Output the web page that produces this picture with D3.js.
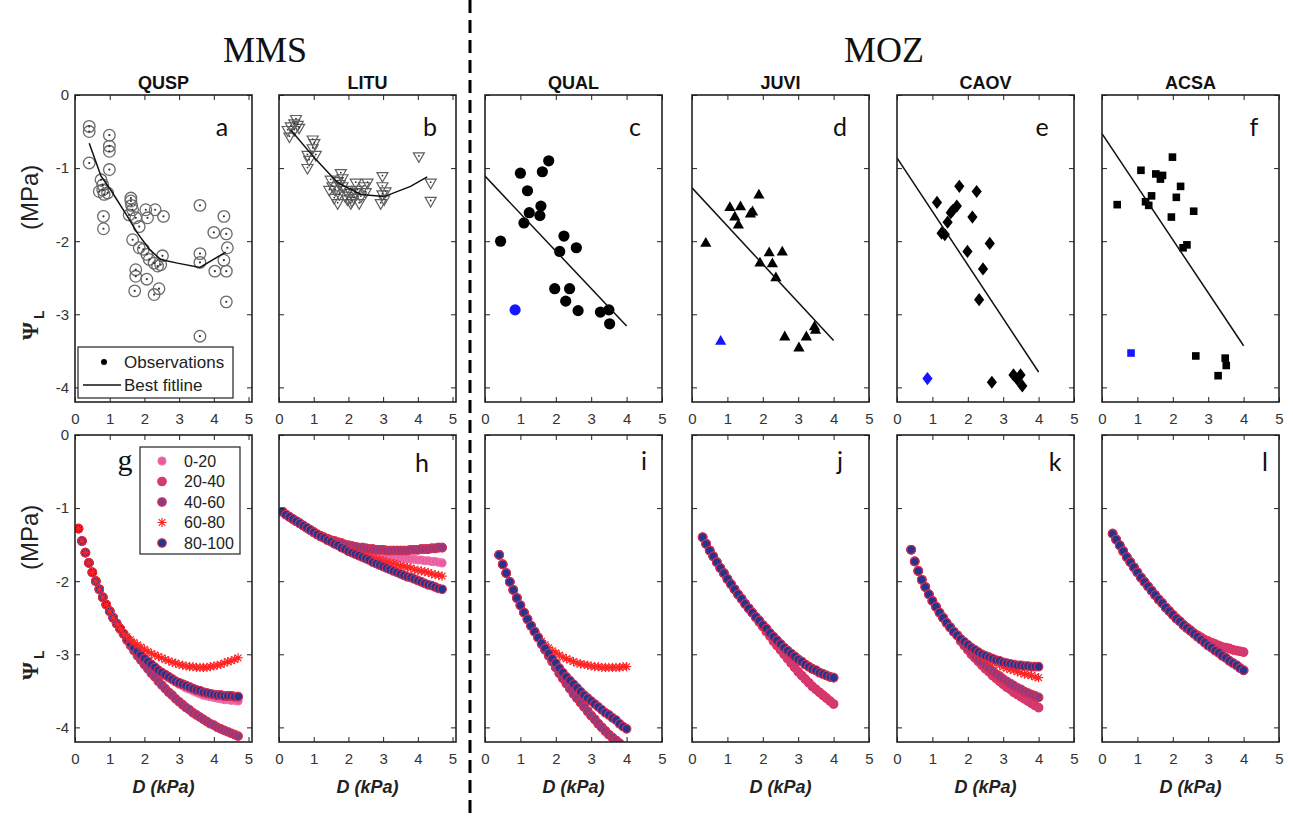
<!DOCTYPE html>
<html>
<head>
<meta charset="utf-8">
<script src="https://cdn.jsdelivr.net/npm/d3@7"></script>
<style>
  body { margin: 0; background: #fff; }
  svg { display: block; }
</style>
</head>
<body>
<svg id="fig" width="1293" height="817"></svg>
<script>
// ---------------- Observations: leaf water potential vs. vapour pressure deficit ----------------
const qusp = {
  D:   [0.41,0.41,0.41,0.99,0.99,0.99,0.99,0.75,0.80,0.80,0.84,0.94,0.70,0.82,0.82,1.61,1.61,1.63,1.66,1.56,1.75,1.85,1.66,2.04,2.09,2.31,2.55,1.85,1.97,2.07,2.14,2.28,2.38,2.47,2.52,1.75,1.75,2.07,1.72,2.28,2.42,3.60,3.60,3.60,3.60,4.00,4.03,4.29,4.36,4.39,4.29,4.36,4.36],
  psi: [-0.43,-0.50,-0.93,-0.55,-0.70,-0.77,-1.02,-1.16,-1.23,-1.30,-1.36,-1.34,-1.32,-1.66,-1.83,-1.41,-1.45,-1.51,-1.57,-1.64,-1.68,-1.80,-1.98,-1.57,-1.68,-1.57,-1.66,-2.09,-2.11,-2.18,-2.25,-2.30,-2.34,-2.32,-2.20,-2.39,-2.48,-2.52,-2.68,-2.73,-2.65,-1.51,-2.17,-2.29,-3.30,-1.88,-2.41,-1.66,-1.90,-2.09,-2.26,-2.41,-2.83]
};
const quspFitD   = [0.41,0.75,1.03,1.51,1.80,2.14,2.47,2.95,3.60,4.34];
const quspFitPsi = [-0.66,-1.11,-1.30,-1.66,-1.89,-2.11,-2.25,-2.30,-2.36,-2.15];

const litu = {
  D:   [0.49,0.44,0.34,0.54,0.25,0.44,0.30,0.58,0.97,1.02,0.97,0.82,1.06,0.87,0.82,1.49,1.54,1.45,1.69,1.78,1.83,1.74,1.69,1.93,2.07,2.07,2.21,2.26,2.36,2.31,2.45,2.55,2.16,1.97,1.59,1.83,1.62,1.90,2.20,2.50,1.75,2.10,2.98,2.98,2.98,3.03,2.93,3.07,4.03,4.37,4.37],
  psi: [-0.33,-0.39,-0.43,-0.41,-0.48,-0.48,-0.57,-0.45,-0.61,-0.66,-0.73,-0.82,-0.82,-0.89,-1.00,-1.16,-1.25,-1.30,-1.18,-1.07,-1.25,-1.36,-1.48,-1.30,-1.34,-1.48,-1.20,-1.30,-1.39,-1.48,-1.25,-1.20,-1.41,-1.43,-1.41,-1.14,-1.30,-1.38,-1.33,-1.33,-1.22,-1.45,-1.11,-1.25,-1.36,-1.43,-1.48,-1.32,-0.84,-1.20,-1.45]
};
const lituFitD   = [0.34,1.02,1.69,2.36,3.03,3.79,4.27];
const lituFitPsi = [-0.48,-0.86,-1.20,-1.36,-1.39,-1.25,-1.12];

const qual = {
  D:   [1.80,1.00,1.62,1.20,1.58,1.25,1.55,1.10,0.44,2.23,2.11,2.58,1.97,2.39,2.28,2.63,3.26,3.50,3.52],
  psi: [-0.90,-1.07,-1.05,-1.31,-1.52,-1.61,-1.65,-1.75,-2.00,-1.93,-2.14,-2.09,-2.65,-2.65,-2.82,-2.95,-2.97,-2.94,-3.13]
};
const qualOutD = [0.85], qualOutPsi = [-2.94];
const qualFitD = [0, 4], qualFitPsi = [-1.11, -3.16];

const juvi = {
  D:   [1.89,1.07,1.37,1.21,1.71,1.65,1.31,0.39,2.18,2.55,1.92,2.27,2.37,3.46,3.49,3.23,2.62,3.02],
  psi: [-1.36,-1.53,-1.52,-1.66,-1.59,-1.62,-1.77,-2.02,-2.15,-2.14,-2.29,-2.30,-2.49,-3.16,-3.21,-3.30,-3.30,-3.45]
};
const juviOutD = [0.81], juviOutPsi = [-3.36];
const juviFitD = [0, 4], juviFitPsi = [-1.27, -3.36];

const caov = {
  D:   [1.76,2.25,1.13,1.69,1.57,1.52,2.13,1.43,1.26,1.35,1.99,2.62,2.43,2.32,2.68,3.29,3.49,3.54,3.40],
  psi: [-1.25,-1.32,-1.47,-1.52,-1.58,-1.61,-1.67,-1.74,-1.89,-1.91,-2.14,-2.03,-2.38,-2.80,-3.93,-3.83,-3.83,-3.98,-3.89]
};
const caovOutD = [0.86], caovOutPsi = [-3.88];
const caovFitD = [0, 4], caovFitPsi = [-0.86, -3.79];

const acsa = {
  D:   [1.99,1.10,1.52,1.71,1.65,2.22,1.40,2.10,0.43,1.23,1.32,2.59,1.96,2.40,2.29,2.65,3.48,3.51,3.28],
  psi: [-0.85,-1.03,-1.08,-1.10,-1.15,-1.25,-1.38,-1.40,-1.50,-1.46,-1.51,-1.59,-1.67,-2.05,-2.09,-3.57,-3.60,-3.70,-3.84]
};
const acsaOutD = [0.82], acsaOutPsi = [-3.53];
const acsaFitD = [0, 4], acsaFitPsi = [-0.53, -3.43];

// ---------------- Modelled leaf water potential by soil-moisture percentile class ----------------
const classLabels = ["0-20", "20-40", "40-60", "60-80", "80-100"];

const dMMS = [0.1,0.2,0.3,0.4,0.5,0.6,0.7,0.8,0.9,1.0,1.1,1.2,1.3,1.4,1.5,1.6,1.7,1.8,1.9,2.0,2.1,2.2,2.3,2.4,2.5,2.6,2.7,2.8,2.9,3.0,3.1,3.2,3.3,3.4,3.5,3.6,3.7,3.8,3.9,4.0,4.1,4.2,4.3,4.4,4.5,4.6,4.7];
const dQUAL = [0.4,0.5,0.6,0.7,0.8,0.9,1.0,1.1,1.2,1.3,1.4,1.5,1.6,1.7,1.8,1.9,2.0,2.1,2.2,2.3,2.4,2.5,2.6,2.7,2.8,2.9,3.0,3.1,3.2,3.3,3.4,3.5,3.6,3.7,3.8,3.9,4.0];
const dJUVI = [0.3,0.4,0.5,0.6,0.7,0.8,0.9,1.0,1.1,1.2,1.3,1.4,1.5,1.6,1.7,1.8,1.9,2.0,2.1,2.2,2.3,2.4,2.5,2.6,2.7,2.8,2.9,3.0,3.1,3.2,3.3,3.4,3.5,3.6,3.7,3.8,3.9,4.0];
const dCAOV = dQUAL;
const dACSA = dJUVI;

// QUSP: shared low-D segment (0.1-1.4) and the branches beyond it (1.5-4.7)
const gLow  = [-1.28,-1.45,-1.61,-1.75,-1.88,-2.00,-2.11,-2.22,-2.32,-2.41,-2.50,-2.58,-2.65,-2.72];
const g020  = [-2.79,-2.85,-2.91,-2.96,-3.01,-3.06,-3.10,-3.14,-3.18,-3.22,-3.26,-3.29,-3.32,-3.35,-3.38,-3.41,-3.43,-3.46,-3.48,-3.50,-3.52,-3.54,-3.56,-3.57,-3.58,-3.59,-3.60,-3.61,-3.62,-3.62,-3.63,-3.63,-3.64];
const gMid  = [-2.79,-2.85,-2.91,-2.96,-3.01,-3.06,-3.10,-3.14,-3.18,-3.22,-3.25,-3.28,-3.31,-3.34,-3.37,-3.39,-3.41,-3.43,-3.45,-3.47,-3.49,-3.50,-3.52,-3.53,-3.54,-3.55,-3.56,-3.56,-3.57,-3.57,-3.57,-3.58,-3.58];
const gLowBr= [-2.81,-2.88,-2.95,-3.02,-3.08,-3.14,-3.20,-3.26,-3.31,-3.37,-3.42,-3.47,-3.52,-3.56,-3.61,-3.65,-3.69,-3.73,-3.76,-3.80,-3.83,-3.86,-3.89,-3.92,-3.95,-3.97,-4.00,-4.02,-4.04,-4.06,-4.08,-4.10,-4.12];
const gRed  = [-2.76,-2.80,-2.84,-2.87,-2.90,-2.93,-2.96,-2.99,-3.01,-3.03,-3.05,-3.07,-3.09,-3.11,-3.12,-3.14,-3.15,-3.16,-3.17,-3.17,-3.18,-3.18,-3.18,-3.18,-3.17,-3.16,-3.15,-3.14,-3.12,-3.10,-3.09,-3.07,-3.05];

// LITU: shared 0.1-1.0, branches 1.1-4.7
const hLow  = [-1.05,-1.09,-1.12,-1.15,-1.18,-1.21,-1.24,-1.27,-1.30,-1.33];
const hPink = [-1.36,-1.39,-1.41,-1.43,-1.45,-1.47,-1.49,-1.51,-1.53,-1.55,-1.56,-1.58,-1.59,-1.60,-1.61,-1.62,-1.63,-1.64,-1.64,-1.65,-1.66,-1.67,-1.67,-1.68,-1.68,-1.69,-1.69,-1.70,-1.70,-1.71,-1.71,-1.72,-1.72,-1.73,-1.73,-1.74,-1.75];
const hTop  = [-1.36,-1.38,-1.40,-1.42,-1.44,-1.45,-1.47,-1.48,-1.50,-1.51,-1.52,-1.53,-1.54,-1.54,-1.55,-1.56,-1.56,-1.57,-1.57,-1.57,-1.58,-1.58,-1.58,-1.58,-1.58,-1.58,-1.58,-1.57,-1.57,-1.57,-1.56,-1.56,-1.56,-1.55,-1.55,-1.54,-1.54];
const hRed  = [-1.36,-1.39,-1.41,-1.44,-1.46,-1.49,-1.51,-1.53,-1.55,-1.57,-1.59,-1.61,-1.62,-1.64,-1.65,-1.67,-1.68,-1.70,-1.71,-1.72,-1.74,-1.75,-1.76,-1.77,-1.79,-1.80,-1.81,-1.82,-1.84,-1.85,-1.86,-1.87,-1.88,-1.90,-1.91,-1.92,-1.93];
const hNavy = [-1.36,-1.39,-1.41,-1.44,-1.46,-1.49,-1.51,-1.54,-1.56,-1.59,-1.61,-1.63,-1.65,-1.67,-1.69,-1.71,-1.74,-1.76,-1.78,-1.80,-1.82,-1.84,-1.86,-1.88,-1.90,-1.92,-1.94,-1.95,-1.97,-1.99,-2.01,-2.03,-2.05,-2.06,-2.08,-2.10,-2.11];

// QUAL: shared 0.4-1.5, branches 1.6-4.0
const iLow  = [-1.64,-1.77,-1.89,-2.01,-2.12,-2.23,-2.33,-2.43,-2.52,-2.61,-2.69,-2.77];
const iDeep = [-2.86,-2.94,-3.02,-3.10,-3.18,-3.26,-3.33,-3.40,-3.47,-3.54,-3.60,-3.66,-3.72,-3.78,-3.84,-3.89,-3.95,-4.00,-4.05,-4.10,-4.14,-4.18,-4.22,-4.26,-4.30];
const iRed  = [-2.82,-2.87,-2.91,-2.95,-2.98,-3.01,-3.04,-3.06,-3.08,-3.10,-3.12,-3.13,-3.14,-3.15,-3.16,-3.17,-3.17,-3.18,-3.18,-3.18,-3.18,-3.18,-3.18,-3.17,-3.17];
const iNavy = [-2.85,-2.92,-2.99,-3.06,-3.12,-3.19,-3.25,-3.31,-3.36,-3.41,-3.46,-3.51,-3.56,-3.60,-3.64,-3.68,-3.72,-3.76,-3.80,-3.83,-3.87,-3.90,-3.95,-3.99,-4.02];

// JUVI: shared 0.3-1.7, branches 1.8-4.0
const jLow  = [-1.40,-1.49,-1.58,-1.66,-1.74,-1.82,-1.89,-1.97,-2.04,-2.11,-2.18,-2.24,-2.31,-2.37,-2.43];
const jPink = [-2.49,-2.56,-2.62,-2.69,-2.75,-2.82,-2.88,-2.94,-3.00,-3.06,-3.12,-3.18,-3.24,-3.29,-3.34,-3.39,-3.44,-3.48,-3.52,-3.56,-3.60,-3.64,-3.68];
const jNavy = [-2.49,-2.54,-2.60,-2.65,-2.71,-2.76,-2.81,-2.86,-2.91,-2.95,-2.99,-3.03,-3.07,-3.10,-3.14,-3.17,-3.20,-3.22,-3.25,-3.27,-3.29,-3.31,-3.32];

// CAOV: shared 0.4-1.7, branches 1.8-4.0
const kLow  = [-1.57,-1.73,-1.86,-1.98,-2.08,-2.18,-2.27,-2.35,-2.43,-2.50,-2.57,-2.63,-2.69,-2.74];
const kPink = [-2.82,-2.88,-2.94,-3.00,-3.05,-3.10,-3.15,-3.20,-3.24,-3.29,-3.33,-3.37,-3.41,-3.45,-3.48,-3.52,-3.55,-3.58,-3.61,-3.64,-3.67,-3.70,-3.73];
const kPurp = [-2.81,-2.87,-2.92,-2.97,-3.02,-3.07,-3.11,-3.15,-3.19,-3.23,-3.27,-3.30,-3.34,-3.37,-3.40,-3.43,-3.46,-3.48,-3.51,-3.53,-3.55,-3.57,-3.59];
const kRed  = [-2.79,-2.84,-2.88,-2.92,-2.96,-2.99,-3.02,-3.05,-3.08,-3.10,-3.13,-3.15,-3.17,-3.19,-3.21,-3.22,-3.24,-3.25,-3.27,-3.28,-3.29,-3.31,-3.32];
const kNavy = [-2.79,-2.83,-2.87,-2.91,-2.94,-2.97,-3.00,-3.02,-3.04,-3.06,-3.08,-3.09,-3.11,-3.12,-3.13,-3.14,-3.15,-3.15,-3.16,-3.16,-3.17,-3.17,-3.17];

// ACSA: shared 0.3-2.4, branches 2.5-4.0
const lLow  = [-1.35,-1.43,-1.51,-1.59,-1.67,-1.74,-1.81,-1.88,-1.95,-2.01,-2.07,-2.13,-2.19,-2.25,-2.30,-2.36,-2.41,-2.46,-2.51,-2.55,-2.60,-2.64];
const lPink = [-2.67,-2.71,-2.74,-2.77,-2.80,-2.82,-2.84,-2.86,-2.88,-2.90,-2.91,-2.92,-2.94,-2.95,-2.96,-2.97];
const lNavy = [-2.68,-2.72,-2.76,-2.80,-2.84,-2.88,-2.91,-2.95,-2.98,-3.02,-3.05,-3.09,-3.12,-3.15,-3.19,-3.22];

// one array of psi values per class, in class order 0-20 ... 80-100
const modelQUSP = [gLow.concat(g020), gLow.concat(gMid), gLow.concat(gLowBr), gLow.concat(gRed), gLow.concat(gMid)];
const modelLITU = [hLow.concat(hPink), hLow.concat(hTop), hLow.concat(hTop), hLow.concat(hRed), hLow.concat(hNavy)];
const modelQUAL = [iLow.concat(iDeep), iLow.concat(iDeep), iLow.concat(iDeep), iLow.concat(iRed), iLow.concat(iNavy)];
const modelJUVI = [jLow.concat(jPink), jLow.concat(jPink), jLow.concat(jNavy), jLow.concat(jNavy), jLow.concat(jNavy)];
const modelCAOV = [kLow.concat(kPink), kLow.concat(kPink), kLow.concat(kPurp), kLow.concat(kRed), kLow.concat(kNavy)];
const modelACSA = [lLow.concat(lPink), lLow.concat(lPink), lLow.concat(lNavy), lLow.concat(lNavy), lLow.concat(lNavy)];

const xTicks = [0, 1, 2, 3, 4, 5];
const yTicks = [-4, -3, -2, -1, 0];

// ---------------- layout ----------------
const svg = d3.select("#fig");
const colLeft = [75, 279, 485, 692, 897, 1102];
const colW = 177;
const rowTop = [95, 435];
const rowH = 307;
const SANS = "'Liberation Sans', Arial, sans-serif";
const SERIF = "'Liberation Serif', 'Times New Roman', serif";

const classStyle = [
  { fill: "#e75c9f", stroke: "#ef72ad", r: 4.0 },
  { fill: "#cc3c76", stroke: "#e8305c", r: 4.3 },
  { fill: "#8f3b82", stroke: "#d9304f", r: 4.3 },
  { star: true, stroke: "#ff2424" },
  { fill: "#25348c", stroke: "#d62f52", r: 4.3 }
];

const shapes = {
  triDown: "M-5.5,-3.6L5.5,-3.6L0,6Z",
  triUp: "M0,-5.6L5.6,4.2L-5.6,4.2Z",
  diamond: "M0,-6.6L5.1,0L0,6.6L-5.1,0Z",
  square: "M-3.8,-3.8h7.6v7.6h-7.6Z",
  star: "M-4.6,0H4.6M0,-4.6V4.6M-3.3,-3.3L3.3,3.3M-3.3,3.3L3.3,-3.3"
};

function scales(col, row) {
  const x = d3.scaleLinear().domain(col < 2 ? [0, 5.1] : [0, 5])
    .range([colLeft[col], colLeft[col] + colW]);
  const y = d3.scaleLinear().domain([-4.2, 0])
    .range([rowTop[row] + rowH, rowTop[row]]);
  return { x, y };
}

function styleAxis(g) {
  g.select(".domain").remove();
  g.selectAll(".tick line").attr("stroke", "#222").attr("stroke-width", 1);
  g.selectAll(".tick text").attr("fill", "#333").style("font-family", SANS).style("font-size", "15px");
}

function frame(col, row, x, y) {
  const g = svg.append("g");
  const l = x.range()[0], r = x.range()[1], b = y.range()[0], t = y.range()[1];
  const label = d => String(d);
  g.append("g").attr("transform", `translate(0,${b})`)
    .call(d3.axisBottom(x).tickValues(xTicks).tickSizeInner(-5).tickSizeOuter(0).tickPadding(11).tickFormat(label))
    .call(styleAxis);
  g.append("g").attr("transform", `translate(0,${t})`)
    .call(d3.axisTop(x).tickValues(xTicks).tickSizeInner(-5).tickSizeOuter(0).tickFormat(""))
    .call(styleAxis);
  g.append("g").attr("transform", `translate(${l},0)`)
    .call(d3.axisLeft(y).tickValues(yTicks).tickSizeInner(-5).tickSizeOuter(0).tickPadding(6).tickFormat(col === 0 ? label : ""))
    .call(styleAxis);
  g.append("g").attr("transform", `translate(${r},0)`)
    .call(d3.axisRight(y).tickValues(yTicks).tickSizeInner(-5).tickSizeOuter(0).tickFormat(""))
    .call(styleAxis);
  g.append("rect").attr("x", l).attr("y", t).attr("width", r - l).attr("height", b - t)
    .attr("fill", "none").attr("stroke", "#222").attr("stroke-width", 1.6);
}

function clipFor(id, x, y) {
  svg.append("clipPath").attr("id", id).append("rect")
    .attr("x", x.range()[0]).attr("y", y.range()[1])
    .attr("width", x.range()[1] - x.range()[0]).attr("height", y.range()[0] - y.range()[1]);
  return `url(#${id})`;
}

function fitLine(g, x, y, D, P) {
  g.append("path")
    .attr("d", d3.line().x(d => x(d[0])).y(d => y(d[1]))(D.map((d, i) => [d, P[i]])))
    .attr("fill", "none").attr("stroke", "#111").attr("stroke-width", 1.5);
}

function observed(col, obs, fitD, fitP, kind, outD, outP) {
  const { x, y } = scales(col, 0);
  const g = svg.append("g").attr("clip-path", clipFor("c0" + col, x, y));
  const pts = obs.D.map((d, i) => [d, obs.psi[i]]);
  if (kind === "ring") {
    g.selectAll(null).data(pts).enter().append("circle")
      .attr("cx", d => x(d[0])).attr("cy", d => y(d[1])).attr("r", 5.8)
      .attr("fill", "none").attr("stroke", "#6a6a6a").attr("stroke-width", 1.3);
    g.selectAll(null).data(pts).enter().append("circle")
      .attr("cx", d => x(d[0])).attr("cy", d => y(d[1])).attr("r", 1.1).attr("fill", "#333");
  } else if (kind === "triDown") {
    g.selectAll(null).data(pts).enter().append("path")
      .attr("d", shapes.triDown).attr("transform", d => `translate(${x(d[0])},${y(d[1])})`)
      .attr("fill", "none").attr("stroke", "#5e5e5e").attr("stroke-width", 1.2);
    g.selectAll(null).data(pts).enter().append("circle")
      .attr("cx", d => x(d[0])).attr("cy", d => y(d[1]) - 0.5).attr("r", 0.9).attr("fill", "#333");
  } else if (kind === "dot") {
    g.selectAll(null).data(pts).enter().append("circle")
      .attr("cx", d => x(d[0])).attr("cy", d => y(d[1])).attr("r", 5.6).attr("fill", "#000");
  } else {
    g.selectAll(null).data(pts).enter().append("path")
      .attr("d", shapes[kind]).attr("transform", d => `translate(${x(d[0])},${y(d[1])})`)
      .attr("fill", "#000");
  }
  if (outD) {
    const op = outD.map((d, i) => [d, outP[i]]);
    if (kind === "dot") {
      g.selectAll(null).data(op).enter().append("circle")
        .attr("cx", d => x(d[0])).attr("cy", d => y(d[1])).attr("r", 5.6).attr("fill", "#1515ff");
    } else {
      g.selectAll(null).data(op).enter().append("path")
        .attr("d", shapes[kind]).attr("transform", d => `translate(${x(d[0])},${y(d[1])})`)
        .attr("fill", "#1515ff");
    }
  }
  fitLine(g, x, y, fitD, fitP);
  frame(col, 0, x, y);
}

function drawClassMark(sel, st) {
  if (st.star) {
    sel.append("path").attr("d", shapes.star).attr("fill", "none")
      .attr("stroke", st.stroke).attr("stroke-width", 1.2);
  } else {
    sel.append("circle").attr("r", st.r).attr("fill", st.fill)
      .attr("stroke", st.stroke).attr("stroke-width", 1.1);
  }
}

// order: sequence in which the classes are layered (last on top)
function modelled(col, D, series, order) {
  const { x, y } = scales(col, 1);
  const g = svg.append("g").attr("clip-path", clipFor("c1" + col, x, y));
  order.forEach(k => {
    const vals = series[k];
    const pts = D.map((d, i) => [d, vals[i]]);
    const marks = g.append("g").selectAll(null).data(pts).enter().append("g")
      .attr("transform", d => `translate(${x(d[0])},${y(d[1])})`);
    drawClassMark(marks, classStyle[k]);
  });
  frame(col, 1, x, y);
}

// ---------------- top row ----------------
observed(0, qusp, quspFitD, quspFitPsi, "ring");
observed(1, litu, lituFitD, lituFitPsi, "triDown");
observed(2, qual, qualFitD, qualFitPsi, "dot", qualOutD, qualOutPsi);
observed(3, juvi, juviFitD, juviFitPsi, "triUp", juviOutD, juviOutPsi);
observed(4, caov, caovFitD, caovFitPsi, "diamond", caovOutD, caovOutPsi);
observed(5, acsa, acsaFitD, acsaFitPsi, "square", acsaOutD, acsaOutPsi);

// ---------------- bottom row ----------------
modelled(0, dMMS, modelQUSP, [0, 1, 2, 4, 3]);
modelled(1, dMMS, modelLITU, [0, 1, 2, 3, 4]);
modelled(2, dQUAL, modelQUAL, [0, 1, 2, 3, 4]);
modelled(3, dJUVI, modelJUVI, [0, 1, 2, 3, 4]);
modelled(4, dCAOV, modelCAOV, [0, 1, 2, 3, 4]);
modelled(5, dACSA, modelACSA, [0, 1, 2, 3, 4]);

// ---------------- legends ----------------
const legA = svg.append("g");
legA.append("rect").attr("x", 78).attr("y", 347).attr("width", 155).attr("height", 51)
  .attr("fill", "#fff").attr("stroke", "#222").attr("stroke-width", 1.2);
legA.append("circle").attr("cx", 104).attr("cy", 362).attr("r", 3).attr("fill", "#000");
legA.append("line").attr("x1", 83).attr("x2", 121).attr("y1", 385).attr("y2", 385)
  .attr("stroke", "#111").attr("stroke-width", 1.3);
legA.selectAll(null).data(["Observations", "Best fitline"]).enter().append("text")
  .attr("x", 124).attr("y", (d, i) => 368 + i * 23).text(d => d)
  .style("font-family", SANS).style("font-size", "17px").attr("fill", "#222");

const legG = svg.append("g");
legG.append("rect").attr("x", 140).attr("y", 447).attr("width", 100).attr("height", 107)
  .attr("fill", "#fff").attr("stroke", "#222").attr("stroke-width", 1.2);
classLabels.forEach((lab, k) => {
  const yy = 461 + k * 20.5;
  drawClassMark(legG.append("g").attr("transform", `translate(162,${yy})`), classStyle[k]);
  legG.append("text").attr("x", 184).attr("y", yy + 5.5).text(lab)
    .style("font-family", SANS).style("font-size", "16px").attr("fill", "#222");
});

// ---------------- titles and labels ----------------
const species = ["QUSP", "LITU", "QUAL", "JUVI", "CAOV", "ACSA"];
svg.selectAll(null).data(species).enter().append("text")
  .attr("x", (d, i) => colLeft[i] + colW / 2).attr("y", 89).attr("text-anchor", "middle")
  .text(d => d).style("font-family", SANS).style("font-size", "18px").style("font-weight", "bold").attr("fill", "#111");

svg.append("text").attr("x", 265).attr("y", 62).attr("text-anchor", "middle").text("MMS")
  .style("font-family", SERIF).style("font-size", "36px").attr("fill", "#111");
svg.append("text").attr("x", 884).attr("y", 62).attr("text-anchor", "middle").text("MOZ")
  .style("font-family", SERIF).style("font-size", "36px").attr("fill", "#111");

const letters = [
  ["a", 222, 136, 0], ["b", 430, 136, 0], ["c", 635, 136, 0], ["d", 840, 136, 0], ["e", 1042, 136, 0], ["f", 1254, 136, 0],
  ["g", 125, 470, 1], ["h", 422, 472, 0], ["i", 644, 470, 0], ["j", 840, 470, 0], ["k", 1055, 471, 0], ["l", 1265, 471, 0]
];
svg.selectAll(null).data(letters).enter().append("text")
  .attr("x", d => d[1]).attr("y", d => d[2]).attr("text-anchor", "middle").text(d => d[0])
  .style("font-family", d => d[3] ? SERIF : "Lato, 'Open Sans', sans-serif")
  .style("font-size", d => d[3] ? "30px" : "25px").attr("fill", "#111");

colLeft.forEach(l => {
  svg.append("text").attr("x", l + colW / 2).attr("y", 793).attr("text-anchor", "middle")
    .style("font-family", SANS).style("font-size", "18px").style("font-weight", "bold").style("font-style", "italic")
    .attr("fill", "#222").text("D (kPa)");
});

[340, 680].forEach(y0 => {
  const t = svg.append("text").attr("transform", `translate(38,${y0}) rotate(-90)`).attr("fill", "#222");
  t.append("tspan").text("Ψ").style("font-family", SERIF).style("font-weight", "bold").style("font-size", "23px");
  t.append("tspan").text("L").attr("dy", 6).attr("dx", 3).style("font-family", SANS).style("font-weight", "bold").style("font-size", "14px");
  t.append("tspan").text("(MPa)").attr("x", 110).attr("dy", -6).style("font-family", SANS).style("font-size", "24px");
});

// group separator
svg.append("line").attr("x1", 470).attr("x2", 470).attr("y1", 0).attr("y2", 817)
  .attr("stroke", "#000").attr("stroke-width", 3).attr("stroke-dasharray", "13,7");
</script>
</body>
</html>
